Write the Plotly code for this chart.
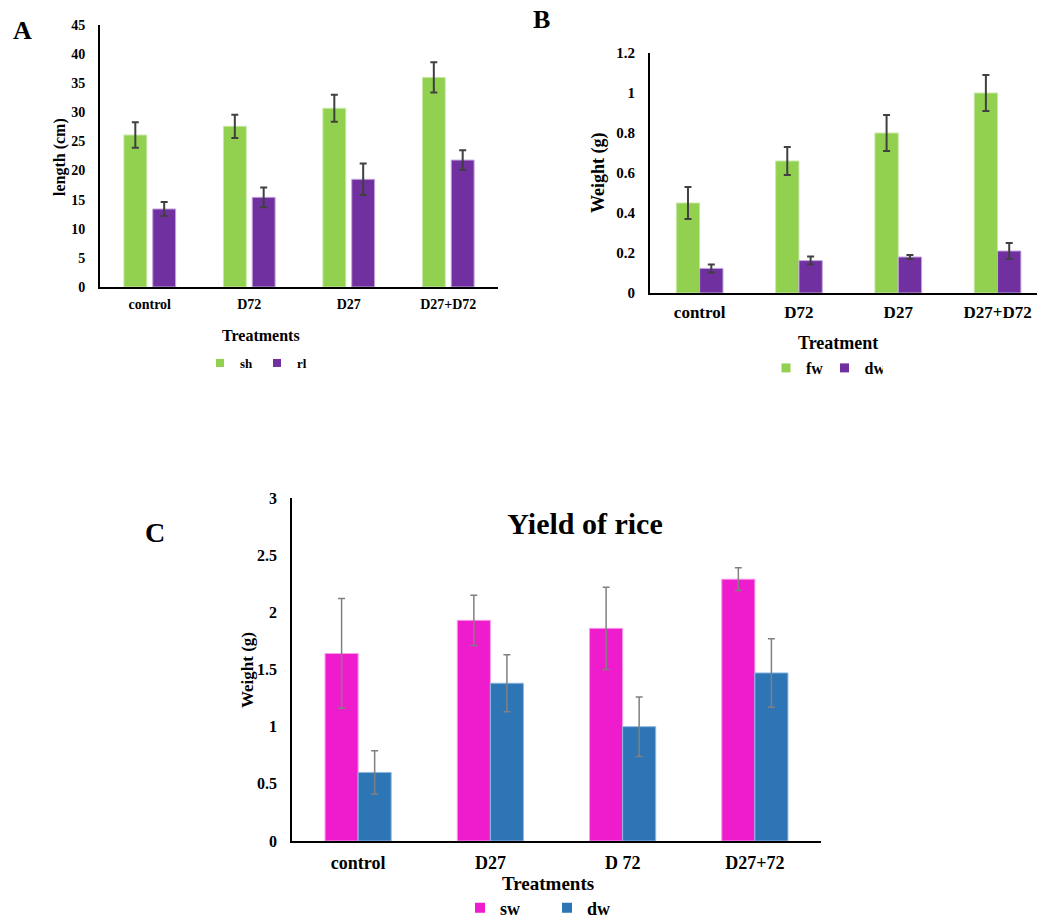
import plotly.graph_objects as go

W, H = 1037, 922

# ---------------- data ----------------
cats_a = ["control", "D72", "D27", "D27+D72"]
sh = [26.1, 27.6, 30.7, 36.0]
sh_err = [2.2, 2.0, 2.3, 2.6]
rl = [13.4, 15.4, 18.5, 21.8]
rl_err = [1.2, 1.7, 2.7, 1.7]

cats_b = ["control", "D72", "D27", "D27+D72"]
fw = [0.45, 0.66, 0.80, 1.00]
fw_err = [0.08, 0.07, 0.09, 0.09]
dw_b = [0.123, 0.162, 0.18, 0.21]
dw_b_err = [0.02, 0.02, 0.01, 0.04]

cats_c = ["control", "D27", "D 72", "D27+72"]
sw = [1.64, 1.93, 1.86, 2.29]
sw_err = [0.48, 0.22, 0.36, 0.10]
dw_c = [0.60, 1.38, 1.00, 1.47]
dw_c_err = [0.19, 0.25, 0.26, 0.30]

GREEN = "#92D050"
PURPLE = "#7030A0"
MAGENTA = "#EE1CCC"
BLUE = "#2E75B6"
EDGE = {GREEN: "#C9E8A8", PURPLE: "#C3A6DA", MAGENTA: "#F79BE6", BLUE: "#8DB8E0"}
SERIF = "Liberation Serif"


def px_x(p):
    return p / W


def px_y(p):
    return 1 - p / H


fig = go.Figure()


def bars(cats, vals, errs, name, color, width, offset, ecolor, ethick, ax, legend, ksize):
    fig.add_trace(go.Bar(x=cats, y=vals, name=name, width=width, offset=offset,
                         marker=dict(color=color, line=dict(color=EDGE[color], width=1)),
                         error_y=dict(type="data", array=errs, color=ecolor, thickness=ethick, width=3.5),
                         xaxis="x" + ax, yaxis="y" + ax, showlegend=False))
    # legend key (no data points, only the legend swatch)
    fig.add_trace(go.Scatter(x=[None], y=[None], mode="markers", name=name,
                             marker=dict(symbol="square", size=ksize, color=color),
                             xaxis="x" + ax, yaxis="y" + ax, legend=legend, hoverinfo="skip"))


bars(cats_a, sh, sh_err, "sh", GREEN, 0.23, -0.26, "#404040", 2, "", "legend", 8)
bars(cats_a, rl, rl_err, "rl", PURPLE, 0.23, 0.03, "#404040", 2, "", "legend", 8)
bars(cats_b, fw, fw_err, "fw", GREEN, 0.235, -0.235, "#404040", 2, "2", "legend2", 9)
bars(cats_b, dw_b, dw_b_err, "dw", PURPLE, 0.235, 0, "#404040", 2, "2", "legend2", 9)
bars(cats_c, sw, sw_err, "sw", MAGENTA, 0.25, -0.25, "#808080", 1.5, "3", "legend3", 10)
bars(cats_c, dw_c, dw_c_err, "dw", BLUE, 0.25, 0, "#808080", 1.5, "3", "legend3", 10)


def xax(domain, size, standoff, rng=None):
    d = dict(domain=domain, showline=True, linecolor="black", linewidth=2, showgrid=False,
             ticks="", zeroline=False, fixedrange=True,
             tickfont=dict(family=SERIF, size=size, color="black", weight="bold"),
             ticklabelstandoff=standoff)
    if rng is not None:
        d["range"] = rng
    return d


def yax(domain, size, rng, dtick, anchor):
    return dict(domain=domain, range=rng, dtick=dtick, showline=True, linecolor="black",
                linewidth=2, showgrid=False, ticks="", zeroline=False, anchor=anchor,
                tickfont=dict(family=SERIF, size=size, color="black", weight="bold"),
                ticklabelstandoff=10)


layout = dict(
    width=W, height=H, margin=dict(l=0, r=0, t=0, b=0, autoexpand=False),
    paper_bgcolor="white", plot_bgcolor="white", barmode="group",
    xaxis=dict(xax([px_x(100), px_x(498)], 14, 3), anchor="y"),
    yaxis=yax([px_y(287), px_y(25)], 14, [0, 45], 5, "x"),
    xaxis2=dict(xax([px_x(650), 1.0], 17, 3, [-0.5, -0.5 + 387 / 99.3]), anchor="y2"),
    yaxis2=yax([px_y(293), px_y(53)], 15, [0, 1.2], 0.2, "x2"),
    xaxis3=dict(xax([px_x(292), px_x(821)], 18, 5), anchor="y3", linewidth=1.5),
    yaxis3=dict(yax([px_y(841), px_y(498)], 16, [0, 3], 0.5, "x3"), linewidth=1.5),
    title=dict(text="Yield of rice", x=px_x(585), y=px_y(523), xanchor="center", yanchor="middle",
               font=dict(family=SERIF, size=30, color="black", weight="bold")),
    legend=dict(orientation="h", x=px_x(200), y=px_y(363), xanchor="left", yanchor="middle",
                font=dict(family=SERIF, size=13, color="black", weight="bold"),
                itemwidth=30, entrywidth=12, bgcolor="rgba(0,0,0,0)"),
    legend2=dict(orientation="h", x=px_x(766), y=px_y(368), xanchor="left", yanchor="middle",
                 font=dict(family=SERIF, size=16, color="black", weight="bold"),
                 itemwidth=30, entrywidth=13.5, bgcolor="rgba(0,0,0,0)"),
    legend3=dict(orientation="h", x=px_x(460), y=px_y(908), xanchor="left", yanchor="middle",
                 font=dict(family=SERIF, size=18, color="black", weight="bold"),
                 itemwidth=30, entrywidth=42, bgcolor="rgba(0,0,0,0)"),
)
fig.update_layout(**layout)

ann_font = lambda s: dict(family=SERIF, size=s, color="black", weight="bold")
annotations = [
    dict(text="A", x=px_x(22), y=px_y(31), font=ann_font(26)),
    dict(text="B", x=px_x(541), y=px_y(20), font=ann_font(26)),
    dict(text="C", x=px_x(155), y=px_y(532), font=ann_font(28)),
    dict(text="Treatments", x=px_x(261), y=px_y(335), font=ann_font(16)),
    dict(text="length (cm)", x=px_x(60), y=px_y(157), textangle=-90, font=ann_font(16)),
    dict(text="Treatment", x=px_x(838), y=px_y(343), font=ann_font(18)),
    dict(text="Weight (g)", x=px_x(598), y=px_y(173), textangle=-90, font=ann_font(18)),
    dict(text="Treatments", x=px_x(548), y=px_y(883), font=ann_font(19)),
    dict(text="Weight (g)", x=px_x(247), y=px_y(670), textangle=-90, font=ann_font(17)),
]
for a in annotations:
    a.update(xref="paper", yref="paper", showarrow=False, xanchor="center", yanchor="middle")
fig.update_layout(annotations=annotations)

fig.write_html("out.html")
